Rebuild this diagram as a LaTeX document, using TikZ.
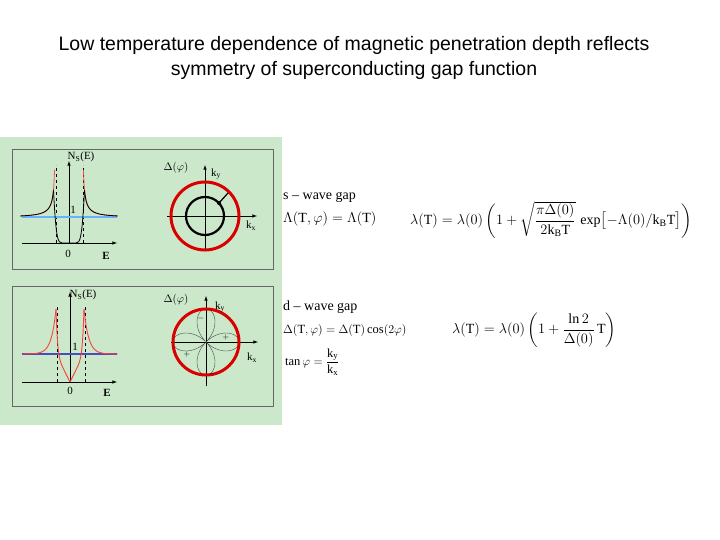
\documentclass[tikz,border=0pt]{standalone}
\usepackage{amsmath}
\usepackage{fontspec}
\setmainfont{Liberation Serif}
\newfontfamily\titlefont{Liberation Sans}
\begin{document}
\begin{tikzpicture}[x=1pt,y=-1pt,
  panel/.style={draw=gray!80!black,line width=0.8pt},
  ax/.style={-latex,line width=0.6pt},
  lab/.style={font=\fontsize{11}{12}\selectfont,inner sep=0pt},
  txt/.style={font=\fontsize{14}{16}\selectfont,anchor=west,inner sep=0pt},
  redc/.style={draw=red!85!black,line width=3pt}]
\useasboundingbox (0,0) rectangle (720,540);
\fill[white] (0,0) rectangle (720,540);
\node[font=\titlefont\fontsize{19.5}{25}\selectfont,align=center] (title) at (354,58)
 {Low temperature dependence of magnetic penetration depth reflects\\symmetry of superconducting gap function};
\fill[fill={rgb,255:red,203;green,232;blue,203}] (0,137) rectangle (282,425);
\draw[panel] (12,149) rectangle (273,269);
\draw[panel] (12,286) rectangle (273,406);
% top DOS
\draw[ax] (22,243) -- (117,243);
\draw[ax] (69,243) -- (69,161);
\draw[dashed,thin] (56,243) -- (56,165);
\draw[dashed,thin] (83,243) -- (83,165);
\draw[blue!50!cyan!60!white,line width=1.5pt] (22,217) -- (117,217);
\draw[red!70,line width=0.8pt] plot[domain=1.07:3.6,samples=60] ({69-13.5*\x},{243-26*\x/sqrt(\x*\x-1)});
\draw[red!70,line width=0.8pt] plot[domain=1.07:3.6,samples=60] ({69+13.5*\x},{243-26*\x/sqrt(\x*\x-1)});
\draw[black,line width=0.8pt] plot[domain=1.15:3.6,samples=60] ({69-13.5*\x},{243-26*\x/sqrt(\x*\x-1)});
\draw[black,line width=0.8pt] plot[domain=1.15:3.6,samples=60] ({69+13.5*\x},{243-26*\x/sqrt(\x*\x-1)});
\draw[black,line width=0.8pt] (53.5,190) .. controls (56,240) and (58,243) .. (62,243) -- (76,243) .. controls (80,243) and (82,240) .. (84.5,190);
\node[lab] (ns1) at (81,157) {N$_\mathrm{S}$(E)};
\node[lab] (one1) at (73,210) {1};
\node[lab] (zero1) at (68,254) {0};
\node[lab,font=\bfseries\fontsize{11}{12}\selectfont] (e1) at (106,256) {E};
% top circle
\draw[ax] (167,216) -- (257,216);
\draw[ax] (205,251) -- (205,165);
\draw[redc] (205,216) circle (34);
\draw[black,line width=2.2pt] (205,216) circle (19);
\draw[black,line width=1.2pt] (219,203) -- (228,193);
\fill (219,203) circle (2);
\node[lab] (d1) at (176,168) {$\Delta(\varphi)$};
\node[lab] (ky1) at (216,174) {k$_\mathrm{y}$};
\node[lab] (kx1) at (251,226) {k$_\mathrm{x}$};
% bottom DOS
\draw[ax] (22,382) -- (117,382);
\draw[ax] (70,382) -- (70,292);
\draw[dashed,thin] (57,382) -- (57,305);
\draw[dashed,thin] (85,382) -- (85,305);
\draw[blue!60!black!70,line width=1.2pt] (22,354) -- (117,354);
\draw[red!75,line width=0.9pt] plot[domain=0:1,samples=50] ({70+14*\x},{382-28*\x*(1+1.6*\x^8)});
\draw[red!75,line width=0.9pt] plot[domain=0:1,samples=50] ({70-14*\x},{382-28*\x*(1+1.6*\x^8)});
\draw[red!75,line width=0.9pt] plot[domain=1:3.4,samples=50] ({70+14*\x},{382-28*(1+1.6*exp(-3*(\x-1)))});
\draw[red!75,line width=0.9pt] plot[domain=1:3.4,samples=50] ({70-14*\x},{382-28*(1+1.6*exp(-3*(\x-1)))});
\node[lab] (ns2) at (83,295) {N$_\mathrm{S}$(E)};
\node[lab] (one2) at (75,347) {1};
\node[lab] (zero2) at (70,391) {0};
\node[lab,font=\bfseries\fontsize{11}{12}\selectfont] (e2) at (107,393) {E};
% bottom circle
\draw[ax] (171,342) -- (258,342);
\draw[ax] (206,386) -- (206,296);
\draw[black!70,thin] plot[domain=0:360,samples=200] ({206+33*abs(cos(2*\x))*cos(\x)},{342+33*abs(cos(2*\x))*sin(\x)});
\draw[redc] (206,342) circle (33);
\node[lab] (d2) at (176,300) {$\Delta(\varphi)$};
\node[lab] (ky2) at (220,307) {k$_\mathrm{y}$};
\node[lab] (kx2) at (252,358) {k$_\mathrm{x}$};
\node[lab,font=\fontsize{8}{8}\selectfont] at (201,318) {$-$};
\node[lab,font=\fontsize{8}{8}\selectfont] at (226,337) {$+$};
\node[lab,font=\fontsize{8}{8}\selectfont] at (187,354) {$+$};
\node[lab,font=\fontsize{8}{8}\selectfont] at (212,374) {$-$};
% texts
\node[txt] (sw) at (283,197) {s -- wave gap};
\node[txt] (sg) at (283,219) {$\Lambda(\mathrm{T},\varphi)=\Lambda(\mathrm{T})$};
\node[txt] (sf) at (410,220) {$\lambda(\mathrm{T})=\lambda(0)\left(1+\sqrt{\dfrac{\pi\Delta(0)}{2\mathrm{k_B T}}}\,\exp\bigl[-\Lambda(0)/\mathrm{k_B T}\bigr]\right)$};
\node[txt] (dw) at (283,307) {d -- wave gap};
\node[txt,font=\fontsize{12.5}{14}\selectfont] (dg) at (283,330) {$\Delta(\mathrm{T},\varphi)=\Delta(\mathrm{T})\cos(2\varphi)$};
\node[txt,font=\fontsize{12.5}{14}\selectfont] (tn) at (285,362) {$\tan\varphi=\dfrac{\mathrm{k_y}}{\mathrm{k_x}}$};
\node[txt] (df) at (452,330) {$\lambda(\mathrm{T})=\lambda(0)\left(1+\dfrac{\ln 2}{\Delta(0)}\,\mathrm{T}\right)$};
\end{tikzpicture}
\end{document}
